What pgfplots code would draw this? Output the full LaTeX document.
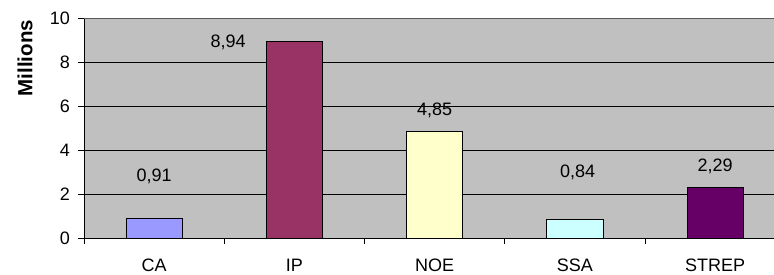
\documentclass[border=0pt]{standalone}
\usepackage{fontspec}
\setmainfont{Liberation Sans}
\usepackage{pgfplots}
\pgfplotsset{compat=1.18}
\definecolor{bg}{HTML}{C0C0C0}
\definecolor{cCA}{HTML}{9999FF}
\definecolor{cIP}{HTML}{993366}
\definecolor{cNOE}{HTML}{FFFFCC}
\definecolor{cSSA}{HTML}{CCFFFF}
\definecolor{cSTREP}{HTML}{660066}
\begin{document}
\begin{tikzpicture}
\fontsize{18}{20}\selectfont
\begin{axis}[
  scale only axis,
  width=690pt, height=220pt,
  xmin=-0.5, xmax=4.42,
  ymin=0, ymax=10,
  ytick={0,2,...,10},
  xtick={0,1,2,3,4},
  xticklabels={CA,IP,NOE,SSA,STREP},
  minor xtick={-0.5,0.5,1.5,2.5,3.5},
  major x tick style={draw=none},
  tick align=outside,
  major tick length=6pt,
  minor tick length=6pt,
  axis x line*=bottom,
  axis y line*=left,
  axis line style={black, line width=0.8pt},
  every tick/.style={black, line width=0.6pt},
  ymajorgrids,
  grid style={black, line width=0.5pt},
  axis background/.style={fill=bg},
  /pgf/number format/assume math mode=true,
  ticklabel style={font=\fontsize{18}{20}\selectfont},
  yticklabel style={xshift=-2pt},
  xticklabel style={yshift=-9pt},
  every axis plot/.append style={ybar, bar width=0.4, bar shift=0pt, draw=black, line width=0.8pt},
  clip=false,
]
\draw[gray!70!black, line width=0.8pt] (rel axis cs:0,1) -- (rel axis cs:1,1);
\addplot[fill=cCA] coordinates {(0,0.91)};
\addplot[fill=cIP] coordinates {(1,8.94)};
\addplot[fill=cNOE] coordinates {(2,4.85)};
\addplot[fill=cSSA] coordinates {(3,0.84)};
\addplot[fill=cSTREP] coordinates {(4,2.29)};
\node at (axis cs:0,2.82) {0,91};
\node at (axis cs:0.527,8.9) {8,94};
\node at (axis cs:2.0,5.82) {4,85};
\node at (axis cs:3.02,3.0) {0,84};
\node at (axis cs:4.0,3.27) {2,29};
\node[rotate=90, font=\bfseries\fontsize{20.5}{22}\selectfont] at ([xshift=-59pt]rel axis cs:0,0.818) {Millions};
\end{axis}
\pgfresetboundingbox
\path ([shift={(-84pt,-37pt)}]current axis.south west) rectangle ([shift={(0pt,18pt)}]current axis.north east);
\end{tikzpicture}
\end{document}
